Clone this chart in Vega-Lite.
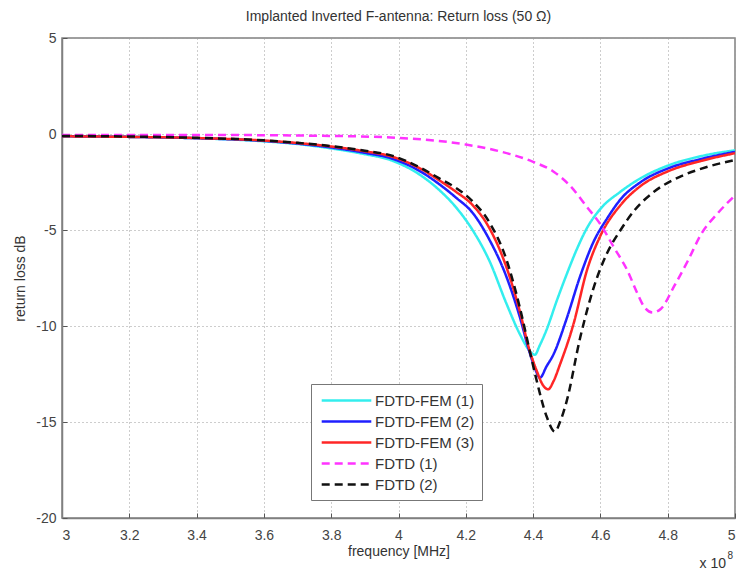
{
  "$schema": "https://vega.github.io/schema/vega-lite/v6.json",
  "autosize": {"type": "none"},
  "padding": {"left": 62, "top": 38, "right": 3, "bottom": 54},
  "width": 673,
  "height": 480,
  "background": "white",
  "title": {"text": "Implanted Inverted F-antenna: Return loss (50 Ω)", "fontSize": 14, "fontWeight": "normal", "font": "Liberation Sans", "color": "#333", "offset": 7},
  "config": {
    "view": {"stroke": "#808080", "strokeWidth": 1.5},
    "axis": {"labelFont": "Liberation Sans", "titleFont": "Liberation Sans", "labelFontSize": 14, "titleFontSize": 14, "titleFontWeight": "normal", "labelColor": "#444", "titleColor": "#333", "domainColor": "#808080", "domainWidth": 1.5, "tickColor": "#555", "gridColor": "#9a9a9a", "gridDash": [1, 3], "gridWidth": 1, "labelExpr": "replace(datum.label, '−', '-')"}
  },
  "data": {"values": [
    {"s": "FDTD-FEM (1)", "f": 3.0, "v": -0.12}, {"s": "FDTD-FEM (1)", "f": 3.2, "v": -0.15}, {"s": "FDTD-FEM (1)", "f": 3.4, "v": -0.22}, {"s": "FDTD-FEM (1)", "f": 3.6, "v": -0.38}, {"s": "FDTD-FEM (1)", "f": 3.7, "v": -0.52}, {"s": "FDTD-FEM (1)", "f": 3.8, "v": -0.75}, {"s": "FDTD-FEM (1)", "f": 3.9, "v": -1.05}, {"s": "FDTD-FEM (1)", "f": 3.975, "v": -1.35}, {"s": "FDTD-FEM (1)", "f": 4.07, "v": -2.2}, {"s": "FDTD-FEM (1)", "f": 4.12, "v": -2.9}, {"s": "FDTD-FEM (1)", "f": 4.17, "v": -3.8}, {"s": "FDTD-FEM (1)", "f": 4.22, "v": -5.0}, {"s": "FDTD-FEM (1)", "f": 4.27, "v": -6.6}, {"s": "FDTD-FEM (1)", "f": 4.32, "v": -8.8}, {"s": "FDTD-FEM (1)", "f": 4.36, "v": -10.4}, {"s": "FDTD-FEM (1)", "f": 4.39, "v": -11.3}, {"s": "FDTD-FEM (1)", "f": 4.405, "v": -11.5}, {"s": "FDTD-FEM (1)", "f": 4.42, "v": -11.0}, {"s": "FDTD-FEM (1)", "f": 4.44, "v": -10.2}, {"s": "FDTD-FEM (1)", "f": 4.47, "v": -8.7}, {"s": "FDTD-FEM (1)", "f": 4.5, "v": -7.3}, {"s": "FDTD-FEM (1)", "f": 4.53, "v": -6.0}, {"s": "FDTD-FEM (1)", "f": 4.56, "v": -4.9}, {"s": "FDTD-FEM (1)", "f": 4.6, "v": -3.9}, {"s": "FDTD-FEM (1)", "f": 4.66, "v": -3.0}, {"s": "FDTD-FEM (1)", "f": 4.72, "v": -2.3}, {"s": "FDTD-FEM (1)", "f": 4.8, "v": -1.65}, {"s": "FDTD-FEM (1)", "f": 4.9, "v": -1.15}, {"s": "FDTD-FEM (1)", "f": 5.0, "v": -0.85},
    {"s": "FDTD-FEM (2)", "f": 3.0, "v": -0.12}, {"s": "FDTD-FEM (2)", "f": 3.2, "v": -0.15}, {"s": "FDTD-FEM (2)", "f": 3.4, "v": -0.22}, {"s": "FDTD-FEM (2)", "f": 3.6, "v": -0.36}, {"s": "FDTD-FEM (2)", "f": 3.7, "v": -0.5}, {"s": "FDTD-FEM (2)", "f": 3.8, "v": -0.7}, {"s": "FDTD-FEM (2)", "f": 3.9, "v": -0.98}, {"s": "FDTD-FEM (2)", "f": 3.975, "v": -1.25}, {"s": "FDTD-FEM (2)", "f": 4.07, "v": -2.0}, {"s": "FDTD-FEM (2)", "f": 4.12, "v": -2.6}, {"s": "FDTD-FEM (2)", "f": 4.17, "v": -3.3}, {"s": "FDTD-FEM (2)", "f": 4.22, "v": -4.1}, {"s": "FDTD-FEM (2)", "f": 4.27, "v": -5.5}, {"s": "FDTD-FEM (2)", "f": 4.32, "v": -7.4}, {"s": "FDTD-FEM (2)", "f": 4.36, "v": -9.5}, {"s": "FDTD-FEM (2)", "f": 4.39, "v": -11.4}, {"s": "FDTD-FEM (2)", "f": 4.41, "v": -12.4}, {"s": "FDTD-FEM (2)", "f": 4.42, "v": -12.7}, {"s": "FDTD-FEM (2)", "f": 4.44, "v": -12.1}, {"s": "FDTD-FEM (2)", "f": 4.46, "v": -11.5}, {"s": "FDTD-FEM (2)", "f": 4.5, "v": -9.6}, {"s": "FDTD-FEM (2)", "f": 4.54, "v": -7.4}, {"s": "FDTD-FEM (2)", "f": 4.58, "v": -5.6}, {"s": "FDTD-FEM (2)", "f": 4.62, "v": -4.4}, {"s": "FDTD-FEM (2)", "f": 4.66, "v": -3.4}, {"s": "FDTD-FEM (2)", "f": 4.72, "v": -2.5}, {"s": "FDTD-FEM (2)", "f": 4.8, "v": -1.8}, {"s": "FDTD-FEM (2)", "f": 4.9, "v": -1.3}, {"s": "FDTD-FEM (2)", "f": 5.0, "v": -0.93},
    {"s": "FDTD-FEM (3)", "f": 3.0, "v": -0.12}, {"s": "FDTD-FEM (3)", "f": 3.2, "v": -0.15}, {"s": "FDTD-FEM (3)", "f": 3.4, "v": -0.21}, {"s": "FDTD-FEM (3)", "f": 3.6, "v": -0.34}, {"s": "FDTD-FEM (3)", "f": 3.7, "v": -0.47}, {"s": "FDTD-FEM (3)", "f": 3.8, "v": -0.65}, {"s": "FDTD-FEM (3)", "f": 3.9, "v": -0.9}, {"s": "FDTD-FEM (3)", "f": 3.975, "v": -1.15}, {"s": "FDTD-FEM (3)", "f": 4.07, "v": -1.85}, {"s": "FDTD-FEM (3)", "f": 4.12, "v": -2.4}, {"s": "FDTD-FEM (3)", "f": 4.17, "v": -3.0}, {"s": "FDTD-FEM (3)", "f": 4.22, "v": -3.7}, {"s": "FDTD-FEM (3)", "f": 4.27, "v": -4.9}, {"s": "FDTD-FEM (3)", "f": 4.32, "v": -6.9}, {"s": "FDTD-FEM (3)", "f": 4.36, "v": -9.2}, {"s": "FDTD-FEM (3)", "f": 4.39, "v": -11.3}, {"s": "FDTD-FEM (3)", "f": 4.41, "v": -12.3}, {"s": "FDTD-FEM (3)", "f": 4.43, "v": -13.1}, {"s": "FDTD-FEM (3)", "f": 4.445, "v": -13.3}, {"s": "FDTD-FEM (3)", "f": 4.46, "v": -12.9}, {"s": "FDTD-FEM (3)", "f": 4.48, "v": -12.0}, {"s": "FDTD-FEM (3)", "f": 4.52, "v": -9.9}, {"s": "FDTD-FEM (3)", "f": 4.56, "v": -7.1}, {"s": "FDTD-FEM (3)", "f": 4.6, "v": -5.3}, {"s": "FDTD-FEM (3)", "f": 4.66, "v": -3.7}, {"s": "FDTD-FEM (3)", "f": 4.72, "v": -2.7}, {"s": "FDTD-FEM (3)", "f": 4.8, "v": -1.95}, {"s": "FDTD-FEM (3)", "f": 4.9, "v": -1.4}, {"s": "FDTD-FEM (3)", "f": 5.0, "v": -1.0},
    {"s": "FDTD (1)", "f": 3.0, "v": -0.05}, {"s": "FDTD (1)", "f": 3.4, "v": -0.05}, {"s": "FDTD (1)", "f": 3.8, "v": -0.1}, {"s": "FDTD (1)", "f": 4.0, "v": -0.2}, {"s": "FDTD (1)", "f": 4.2, "v": -0.55}, {"s": "FDTD (1)", "f": 4.3, "v": -0.9}, {"s": "FDTD (1)", "f": 4.4, "v": -1.45}, {"s": "FDTD (1)", "f": 4.46, "v": -1.95}, {"s": "FDTD (1)", "f": 4.51, "v": -2.7}, {"s": "FDTD (1)", "f": 4.56, "v": -3.8}, {"s": "FDTD (1)", "f": 4.6, "v": -4.7}, {"s": "FDTD (1)", "f": 4.64, "v": -5.9}, {"s": "FDTD (1)", "f": 4.68, "v": -7.1}, {"s": "FDTD (1)", "f": 4.71, "v": -8.3}, {"s": "FDTD (1)", "f": 4.73, "v": -9.0}, {"s": "FDTD (1)", "f": 4.755, "v": -9.3}, {"s": "FDTD (1)", "f": 4.78, "v": -9.1}, {"s": "FDTD (1)", "f": 4.82, "v": -7.9}, {"s": "FDTD (1)", "f": 4.86, "v": -6.6}, {"s": "FDTD (1)", "f": 4.9, "v": -5.2}, {"s": "FDTD (1)", "f": 4.95, "v": -4.1}, {"s": "FDTD (1)", "f": 5.0, "v": -3.2},
    {"s": "FDTD (2)", "f": 3.0, "v": -0.1}, {"s": "FDTD (2)", "f": 3.2, "v": -0.13}, {"s": "FDTD (2)", "f": 3.4, "v": -0.2}, {"s": "FDTD (2)", "f": 3.6, "v": -0.33}, {"s": "FDTD (2)", "f": 3.7, "v": -0.46}, {"s": "FDTD (2)", "f": 3.8, "v": -0.63}, {"s": "FDTD (2)", "f": 3.9, "v": -0.87}, {"s": "FDTD (2)", "f": 3.975, "v": -1.1}, {"s": "FDTD (2)", "f": 4.07, "v": -1.8}, {"s": "FDTD (2)", "f": 4.12, "v": -2.3}, {"s": "FDTD (2)", "f": 4.17, "v": -2.8}, {"s": "FDTD (2)", "f": 4.22, "v": -3.5}, {"s": "FDTD (2)", "f": 4.27, "v": -4.6}, {"s": "FDTD (2)", "f": 4.32, "v": -6.5}, {"s": "FDTD (2)", "f": 4.36, "v": -9.0}, {"s": "FDTD (2)", "f": 4.39, "v": -11.3}, {"s": "FDTD (2)", "f": 4.41, "v": -12.8}, {"s": "FDTD (2)", "f": 4.44, "v": -14.7}, {"s": "FDTD (2)", "f": 4.465, "v": -15.5}, {"s": "FDTD (2)", "f": 4.48, "v": -15.0}, {"s": "FDTD (2)", "f": 4.5, "v": -13.9}, {"s": "FDTD (2)", "f": 4.54, "v": -10.6}, {"s": "FDTD (2)", "f": 4.58, "v": -8.0}, {"s": "FDTD (2)", "f": 4.62, "v": -6.2}, {"s": "FDTD (2)", "f": 4.66, "v": -5.0}, {"s": "FDTD (2)", "f": 4.7, "v": -4.0}, {"s": "FDTD (2)", "f": 4.76, "v": -3.0}, {"s": "FDTD (2)", "f": 4.84, "v": -2.2}, {"s": "FDTD (2)", "f": 4.92, "v": -1.7}, {"s": "FDTD (2)", "f": 5.0, "v": -1.35}
  ]},
  "layer": [
    {
      "mark": {"type": "line", "strokeWidth": 2.5, "interpolate": "monotone", "clip": true},
      "encoding": {
        "x": {"field": "f", "type": "quantitative", "scale": {"domain": [3, 5], "nice": false, "zero": false},
          "axis": {"title": "frequency [MHz]", "values": [3, 3.2, 3.4, 3.6, 3.8, 4, 4.2, 4.4, 4.6, 4.8, 5], "format": "~g", "tickSize": -5, "labelPadding": 15, "titlePadding": 2, "grid": true}},
        "y": {"field": "v", "type": "quantitative", "scale": {"domain": [-20, 5], "nice": false, "zero": false},
          "axis": {"title": "return loss dB", "values": [-20, -15, -10, -5, 0, 5], "tickSize": -5, "labelPadding": 11, "titlePadding": 8, "grid": true}},
        "color": {"field": "s", "type": "nominal", "title": null,
          "scale": {"domain": ["FDTD-FEM (1)", "FDTD-FEM (2)", "FDTD-FEM (3)", "FDTD (1)", "FDTD (2)"], "range": ["#33eeee", "#1f1fff", "#ff2626", "#ff33ff", "#111111"]},
          "legend": {"orient": "none", "legendX": 249, "legendY": 346, "symbolType": "M-3.1,0H3.1", "symbolSize": 256, "symbolStrokeWidth": 2.5, "symbolOffset": 19, "labelFontSize": 15, "labelFont": "Liberation Sans", "labelColor": "#333", "strokeColor": "#777", "fillColor": "white", "padding": 7, "rowPadding": 3, "labelOffset": 19}},
        "strokeDash": {"field": "s", "type": "nominal", "title": null,
          "scale": {"domain": ["FDTD-FEM (1)", "FDTD-FEM (2)", "FDTD-FEM (3)", "FDTD (1)", "FDTD (2)"], "range": [[1, 0], [1, 0], [1, 0], [8, 5], [8, 5]]}}
      }
    },
    {
      "data": {"values": [{"t": "x 10"}]},
      "mark": {"type": "text", "align": "right", "baseline": "middle", "dy": 46, "dx": -9, "fontSize": 14, "font": "Liberation Sans", "color": "#333"},
      "encoding": {"x": {"datum": 5}, "y": {"datum": -20}, "text": {"field": "t"}}
    },
    {
      "data": {"values": [{"t": "8"}]},
      "mark": {"type": "text", "align": "right", "baseline": "middle", "dy": 38, "dx": -2, "fontSize": 10, "font": "Liberation Sans", "color": "#333"},
      "encoding": {"x": {"datum": 5}, "y": {"datum": -20}, "text": {"field": "t"}}
    }
  ]
}
